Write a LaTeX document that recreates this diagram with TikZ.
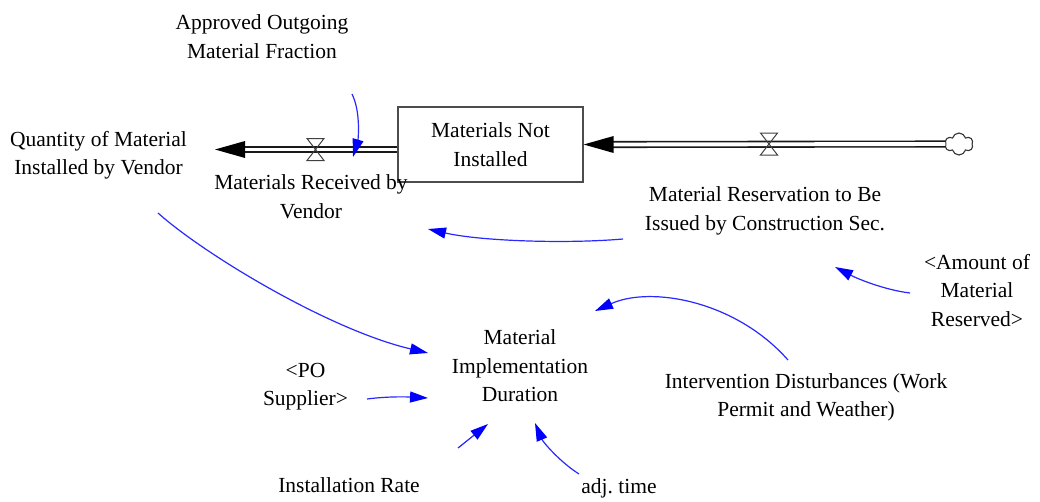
\documentclass[tikz,border=0pt]{standalone}
\usepackage{fontspec}
\setmainfont{Liberation Serif}
\usetikzlibrary{arrows.meta,shapes.symbols,calc}

\definecolor{linkblue}{RGB}{40,40,255}
\definecolor{tipblue}{RGB}{0,0,255}

\tikzset{
  lbl/.style={align=center,font=\fontsize{21.5}{28.5}\selectfont,inner sep=0pt},
  link/.style={draw=linkblue,line width=1.2pt,
    -{Triangle[length=18pt,width=11pt,color=tipblue]}},
  pipe/.style={draw=black!90,line width=1.6pt,double=white,double distance=3.9pt},
  flowhead/.style={fill=black},
  valvestroke/.style={draw=black!75,line width=1pt},
  valve/.pic={\draw[valvestroke] (-8.5,-11) -- (8.5,-11) -- (-8.5,11) -- (8.5,11) -- cycle;},
}

\begin{document}
\begin{tikzpicture}[x=1pt,y=-1pt]
\useasboundingbox (0,0) rectangle (1040,501);

% stock, source cloud and variable labels
\node[lbl,draw=black!70,line width=1.3pt,minimum width=185pt,minimum height=75pt]
  (stock) at (490.5,144.5) {Materials Not\\Installed};
\node[cloud,draw=black!80,line width=1.1pt,cloud puffs=6,aspect=1.3,
  minimum width=28pt,minimum height=22pt,inner sep=0pt] (src) at (959,144) {};

\node[lbl] (approved) at (262,36.5) {Approved Outgoing\\Material Fraction};
\node[lbl] (qty)      at (98.5,155) {Quantity of Material\\Installed by Vendor};
\node[lbl] (recv)     at (311,196.5) {Materials Received by\\Vendor};
\node[lbl] (resv)     at (765,211) {Material Reservation to Be\\Issued by Construction Sec.};
\node[lbl] (amount)   at (977,290.5) {<Amount of\\Material\\Reserved>};
\node[lbl] (mid)      at (520,366) {Material\\Implementation\\Duration};
\node[lbl] (po)       at (305.5,386.5) {<PO\\Supplier>};
\node[lbl] (interv)   at (806,397.5) {Intervention Disturbances (Work\\Permit and Weather)};
\node[lbl] (inst)     at (349,485) {Installation Rate};
\node[lbl] (adj)      at (619,488) {adj.\ time};

% outflow pipe towards the installed quantity
\coordinate (outtip) at (215,149.5);
\draw[pipe] ([yshift=-5pt]stock.west) -- ($(outtip)+(27,0)$);
\fill[flowhead] (outtip) -- ++(30,-8.5) -- ++(0,17) -- cycle;
\pic at (315.5,149.5) {valve};

% inflow pipe from the source cloud
\draw[pipe] (src.west) -- ($(stock.east)+(27,0)$);
\fill[flowhead] (stock.east) -- ++(30,-8.5) -- ++(0,17) -- cycle;
\pic at (769,144) {valve};

% causal links
\coordinate (apIn) at (353,157);
\draw[link] ([shift={(90,57.5)}]approved.center)
  .. controls (361,112) and (358,140) .. (apIn);
\draw[link] ([shift={(-142,28)}]resv.center)
  .. controls (565,244) and (480,241) .. ([shift={(117,32.5)}]recv.center);
\draw[link] ([shift={(-67,2.5)}]amount.center)
  .. controls (885,290) and (858,279) .. ([shift={(70,56)}]resv.center);
\draw[link] ([shift={(59.5,58)}]qty.center)
  .. controls (205,255) and (330,330) .. ([shift={(-92,-13)}]mid.center);
\draw[link] ([shift={(-18,-37.5)}]interv.center)
  .. controls (735,300) and (650,286) .. ([shift={(75,-55)}]mid.center);
\draw[link] ([shift={(61.5,12.5)}]po.center)
  .. controls (390,396) and (410,397) .. ([shift={(-92,32)}]mid.center);
\draw[link] ([shift={(109,-37)}]inst.center) -- ([shift={(-32,58)}]mid.center);
\draw[link] ([shift={(-40,-14)}]adj.center)
  .. controls (560,462) and (543,442) .. ([shift={(15,57)}]mid.center);
\end{tikzpicture}
\end{document}
